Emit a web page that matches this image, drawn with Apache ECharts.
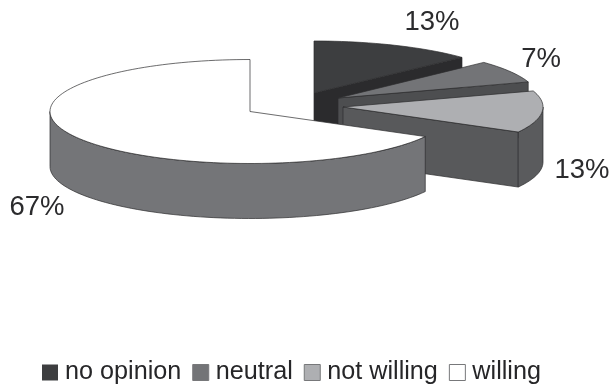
<!DOCTYPE html>
<html>
<head>
<meta charset="utf-8">
<style>html,body{margin:0;padding:0;background:#fff}#chart{width:612px;height:388px}</style>
<script src="https://cdn.jsdelivr.net/npm/echarts@6/dist/echarts.min.js"></script>
</head>
<body>
<div id="chart"></div>
<script>
// Survey answers, in percent
const categories = ['no opinion', 'neutral', 'not willing', 'willing'];
const values = [13, 7, 13, 67];

// Fill colours for each slice: top face, cut face, rim
const topColors = ['#3d3e40', '#737477', '#aeafb2', '#ffffff'];
const cutColors = ['#2b2b2d', '#4d4e50', '#58595b', '#58595b'];
const rimColors = ['#2b2b2d', '#4d4e50', '#5a5b5d', '#747578'];

// Pie geometry: exploded slice centres, radii, thickness and label anchors
const centers = [[314, 93], [338, 98], [343, 107], [250, 111.5]];
const radiiX = [203, 200, 200, 200];
const labelAnchors = [[432, 22], [541, 59], [582, 170], [37, 207]];
const RY = 52, DEPTH = 55;
const EDGE = '#2c2c2e';

const total = values.reduce((a, b) => a + b, 0);
const starts = [];
values.reduce((acc, v, i) => { starts[i] = acc; return acc + v; }, 0);

// Point on a slice's rim; the angle is in degrees, clockwise from 12 o'clock
function rim(c, rx, deg, dy) {
  const r = deg * Math.PI / 180;
  return [c[0] + rx * Math.sin(r), c[1] - RY * Math.cos(r) + dy];
}
function arc(c, rx, a0, a1, dy) {
  const pts = [];
  const n = Math.max(2, Math.ceil(Math.abs(a1 - a0) / 2));
  for (let k = 0; k <= n; k++) pts.push(rim(c, rx, a0 + (a1 - a0) * k / n, dy));
  return pts;
}
function poly(points, fill, z2) {
  return {
    type: 'polygon', z2: z2,
    shape: { points: points },
    style: { fill: fill, stroke: EDGE, lineWidth: 0.7, lineJoin: 'round' }
  };
}

function renderSlice(i) {
  return function () {
    const c = centers[i];
    const rx = radiiX[i];
    const a0 = starts[i] / total * 360;
    const a1 = (starts[i] + values[i]) / total * 360;
    const low = [c[0], c[1] + DEPTH];
    const children = [];

    // Cut face along the clockwise end of the slice, seen when it faces forward
    if (a1 < 180) {
      const e = rim(c, rx, a1, 0), b = rim(c, rx, a1, DEPTH);
      children.push(poly([c, e, b, low], cutColors[i], 1));
    }
    // Rim: only the part on the front half of the ellipse shows
    const f0 = Math.max(a0, 90), f1 = Math.min(a1, 270);
    if (f1 > f0) {
      const pts = arc(c, rx, f0, f1, 0).concat(arc(c, rx, f1, f0, DEPTH));
      children.push(poly(pts, rimColors[i], 2));
    }
    // Top face
    children.push(poly([c].concat(arc(c, rx, a0, a1, 0)), topColors[i], 3));
    // Percentage label
    children.push({
      type: 'text', z2: 4,
      style: {
        x: labelAnchors[i][0], y: labelAnchors[i][1],
        text: values[i] + '%',
        fill: '#2b2b2d',
        font: '27.5px "Liberation Sans"',
        align: 'center', verticalAlign: 'middle'
      }
    });
    return { type: 'group', children: children };
  };
}

const chart = echarts.init(document.getElementById('chart'), null, { renderer: 'canvas' });
chart.setOption({
  animation: false,
  backgroundColor: '#ffffff',
  legend: {
    left: 42, top: 360, padding: 0,
    icon: 'rect',
    itemWidth: 16, itemHeight: 16, itemGap: 11,
    textStyle: {
      fontFamily: 'Liberation Sans', fontSize: 25.2,
      color: '#262628', padding: [0, 0, 0, 2]
    },
    data: categories.map((name, i) => ({
      name: name,
      itemStyle: { color: topColors[i], borderColor: '#77787a', borderWidth: i === 0 ? 0 : 1 }
    }))
  },
  series: categories.map((name, i) => ({
    type: 'custom',
    name: name,
    coordinateSystem: 'none',
    silent: true,
    itemStyle: { color: topColors[i] },
    data: [values[i]],
    renderItem: renderSlice(i)
  }))
});
</script>
</body>
</html>
